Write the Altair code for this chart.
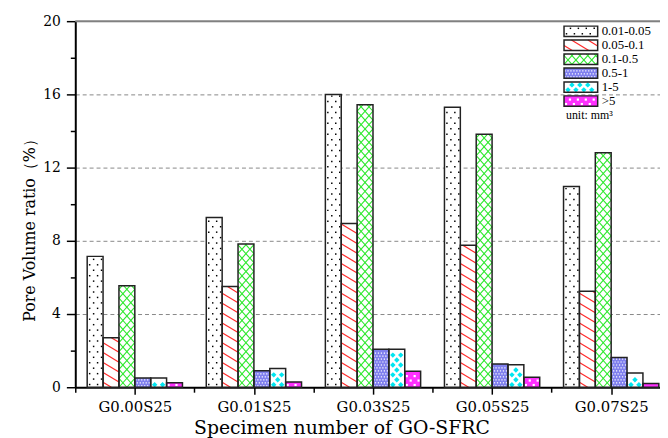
import altair as alt
import pandas as pd

# ---------------- data ----------------
categories = ["G0.00S25", "G0.01S25", "G0.03S25", "G0.05S25", "G0.07S25"]
series = ["0.01-0.05", "0.05-0.1", "0.1-0.5", "0.5-1", "1-5", ">5"]
v_001_005 = [7.15, 9.27, 16.0, 15.3, 10.97]
v_005_01 = [2.7, 5.5, 8.95, 7.76, 5.25]
v_01_05 = [5.55, 7.82, 15.43, 13.82, 12.81]
v_05_1 = [0.5, 0.9, 2.07, 1.27, 1.63]
v_1_5 = [0.5, 1.03, 2.07, 1.23, 0.78]
v_gt5 = [0.25, 0.29, 0.88, 0.54, 0.2]
y_ticks = [0, 2, 4, 6, 8, 10, 12, 14, 16, 18, 20]
x_title = "Specimen number of GO-SFRC"
y_title = "Pore Volume ratio（%）"
unit_label = "unit:  mm³"

values = [v_001_005, v_005_01, v_01_05, v_05_1, v_1_5, v_gt5]

rows = []
for j, s in enumerate(series):
    for i, c in enumerate(categories):
        rows.append(dict(kind="bar", i=i, j=j, cat=c, series=s, value=values[j][i]))
for j, s in enumerate(series):
    rows.append(dict(kind="legend", i=-1, j=j, cat="", series=s, value=0.0))
df = pd.DataFrame(rows)

# ---------------- layout ----------------
W, H = 591, 370
XMIN, XMAX = -0.5, 4.41
PX = W / (XMAX - XMIN)      # px per x unit
PY = H / 20.0               # px per y unit
GROUP = 0.8
BW = GROUP / 6
LX0 = XMIN + 494 / PX
LX1 = XMIN + 528 / PX
LTOP = 20 - 5 / PY
LDY = 14.1 / PY
LH = 10.5 / PY


def f(v):
    return repr(round(v, 6))


fills = ["#ffffff", "#ffffff", "#ffffff", "#8080ee", "#ffffff", "#ff30ff"]
fill_expr = "[" + ",".join("'%s'" % c for c in fills) + "][datum.j]"

xscale = alt.Scale(domain=[XMIN, XMAX], nice=False, zero=False)
yscale = alt.Scale(domain=[0, 20], nice=False, zero=True)

cat_arr = "[" + ",".join("'%s'" % c for c in categories) + "]"
x_axis = alt.Axis(
    values=[k * 0.5 - 0.5 for k in range(10)],
    labelExpr=f"(datum.value % 1 == 0 && datum.value >= 0) ? {cat_arr}[datum.value] : ''",
    tickSize={"condition": {"test": "datum.value % 1 == 0", "value": 7}, "value": 5},
    tickColor="black", tickWidth=1.5,
    domainColor="black", domainWidth=2,
    grid=False, labelFlush=False, labelOverlap=False,
    labelFont="DejaVu Serif", labelFontSize=15, labelColor="black", labelPadding=6,
    title=x_title, titleFont="DejaVu Serif", titleFontSize=19, titleFontWeight="normal",
    titleColor="black", titleX=269, titleY=47, titleAlign="center", titleBaseline="alphabetic",
)
y_axis = alt.Axis(
    values=y_ticks,
    labelExpr="datum.value % 4 == 0 ? datum.label : ''",
    tickSize={"condition": {"test": "datum.value % 4 == 0", "value": 9}, "value": 5},
    tickColor="black", tickWidth=1.5,
    domainColor="black", domainWidth=2,
    grid=True, gridDash=[4, 3], gridColor="#888888", gridWidth=1,
    gridOpacity={"condition": {"test": "datum.value % 4 == 0 && datum.value > 0 && datum.value < 20", "value": 1}, "value": 0},
    labelFont="DejaVu Serif", labelFontSize=14, labelColor="black", labelPadding=6,
    title=y_title, titleFont="DejaVu Serif", titleFontSize=16, titleFontWeight="normal",
    titleColor="black", titleX=-46, titleY=207, titleAngle=270, titleAlign="center", titleBaseline="middle",
)


def X(field):
    return alt.X(field, scale=xscale, axis=x_axis, title=x_title)


def Y(field):
    return alt.Y(field, scale=yscale, axis=y_axis, title=y_title)


base = alt.Chart(df).transform_calculate(
    x0=f"datum.kind == 'bar' ? datum.i - {f(GROUP/2)} + datum.j * {f(BW)} : {f(LX0)}"
).transform_calculate(
    x1=f"datum.kind == 'bar' ? datum.x0 + {f(BW)} : {f(LX1)}",
    yhi=f"datum.kind == 'bar' ? datum.value : {f(LTOP)} - datum.j * {f(LDY)}",
).transform_calculate(
    ylo=f"datum.kind == 'bar' ? 0 : datum.yhi - {f(LH)}",
    fillc=fill_expr,
).transform_calculate(
    ymid="(datum.ylo + datum.yhi) / 2"
)

bars = base.mark_rect(strokeWidth=0).encode(
    x=X("x0:Q"),
    x2="x1:Q",
    y=Y("yhi:Q"),
    y2="ylo:Q",
    fill=alt.Color("fillc:N", scale=None),
)


def pts_layer(j, rs_px, cs_px, oe_px, oo_px, my_px, mx_px, shape, size, color):
    rs, cs = rs_px / PY, cs_px / PX
    return base.transform_filter(f"datum.j == {j}").transform_calculate(
        rowseq=f"sequence(datum.ylo + {f(rs/2)}, datum.yhi - {f(my_px/PY)}, {f(rs)})"
    ).transform_flatten(["rowseq"], as_=["ry"]).transform_calculate(
        k=f"round((datum.ry - datum.ylo) / {f(rs)} - 0.5)"
    ).transform_calculate(
        colseq=f"sequence(datum.x0 + (datum.k % 2 == 0 ? {f(oe_px/PX)} : {f(oo_px/PX)}), datum.x1 - {f(mx_px/PX)}, {f(cs)})"
    ).transform_flatten(["colseq"], as_=["cx"]).mark_point(
        shape=shape, size=size, filled=True, color=color, opacity=1, strokeWidth=0
    ).encode(
        x=X("cx:Q"),
        y=Y("ry:Q"),
    )


def line_layer(j, slope_px, step_px, direction, offset_frac, color, width):
    sl = slope_px * PX / PY
    st = step_px / PY
    if direction == "down":
        cseq = f"sequence(datum.ylo + {f(st*offset_frac)}, datum.yhi + {f(sl)} * (datum.x1 - datum.x0), {f(st)})"
        xs = f"datum.x0 + max(0, (datum.c - datum.yhi) / {f(sl)})"
        ys = f"datum.c - {f(sl)} * (datum.xs - datum.x0)"
        xe = f"min(datum.x1, datum.x0 + (datum.c - datum.ylo) / {f(sl)})"
        ye = f"datum.c - {f(sl)} * (datum.xe - datum.x0)"
    else:
        cseq = f"sequence(datum.ylo - ceil({f(sl)} * (datum.x1 - datum.x0) / {f(st)}) * {f(st)} + {f(st*offset_frac)}, datum.yhi, {f(st)})"
        xs = f"datum.x0 + max(0, (datum.ylo - datum.c) / {f(sl)})"
        ys = f"datum.c + {f(sl)} * (datum.xs - datum.x0)"
        xe = f"min(datum.x1, datum.x0 + (datum.yhi - datum.c) / {f(sl)})"
        ye = f"datum.c + {f(sl)} * (datum.xe - datum.x0)"
    return base.transform_filter(f"datum.j == {j}").transform_calculate(
        cseq=cseq
    ).transform_flatten(["cseq"], as_=["c"]).transform_calculate(
        xs=xs, xe=xe
    ).transform_calculate(
        ys=ys, ye=ye
    ).transform_filter("datum.xe - datum.xs > 0.0005").mark_rule(
        color=color, strokeWidth=width
    ).encode(
        x=X("xs:Q"),
        x2="xe:Q",
        y=Y("ys:Q"),
        y2="ye:Q",
    )


dots = pts_layer(0, 5.5, 8, 2.5, 6.5, 1.5, 1.5, "square", 2.2, "#000000")
red = line_layer(1, 0.6, 10, "down", 0.5, "#ff2a2a", 1.2)
green_a = line_layer(2, 1.125, 9, "down", 0.0, "#2ee82e", 1.1)
green_b = line_layer(2, 1.125, 9, "up", 0.0, "#2ee82e", 1.1)
blue_dots = pts_layer(3, 3, 3, 1, 2.5, 1, 1, "square", 1.5, "#ffffff")
cyan = pts_layer(4, 5, 8, 4, 8, 2.5, 2, "diamond", 30, "#00e6f0")
mag = pts_layer(5, 4.5, 8, 2, 6, 1.5, 1.5, "square", 5, "#ffffff")

outline = base.mark_rect(fillOpacity=0, stroke="#222222", strokeWidth=1.5).encode(
    x=X("x0:Q"),
    x2="x1:Q",
    y=Y("yhi:Q"),
    y2="ylo:Q",
)

legend_text = base.transform_filter("datum.kind == 'legend'").mark_text(
    align="left", baseline="middle", dx=4, font="Liberation Serif", fontSize=13, color="black"
).encode(
    x=X("x1:Q"),
    y=Y("ymid:Q"),
    text="series:N",
)

unit_df = pd.DataFrame({"t": [unit_label], "ux": [LX0], "uy": [LTOP - 6 * LDY - LH / 2]})
unit_text = alt.Chart(unit_df).mark_text(
    align="left", baseline="middle", dx=2, font="Liberation Serif", fontSize=12, color="black"
).encode(
    x=X("ux:Q"),
    y=Y("uy:Q"),
    text="t:N",
)

top_df = pd.DataFrame({"ytop": [20]})
top_rule = alt.Chart(top_df).mark_rule(color="#808080", strokeWidth=2).encode(
    y=Y("ytop:Q")
)

chart = alt.layer(
    bars, dots, red, green_a, green_b, blue_dots, cyan, mag, outline, legend_text, unit_text, top_rule
).properties(
    width=W, height=H,
    autosize=alt.AutoSizeParams(type="none"),
    padding={"left": 68, "top": 11, "right": 0, "bottom": 50},
).configure_view(stroke=None).configure(background="white")

chart.save("out.html", embed_options={"renderer": "svg", "actions": False})
